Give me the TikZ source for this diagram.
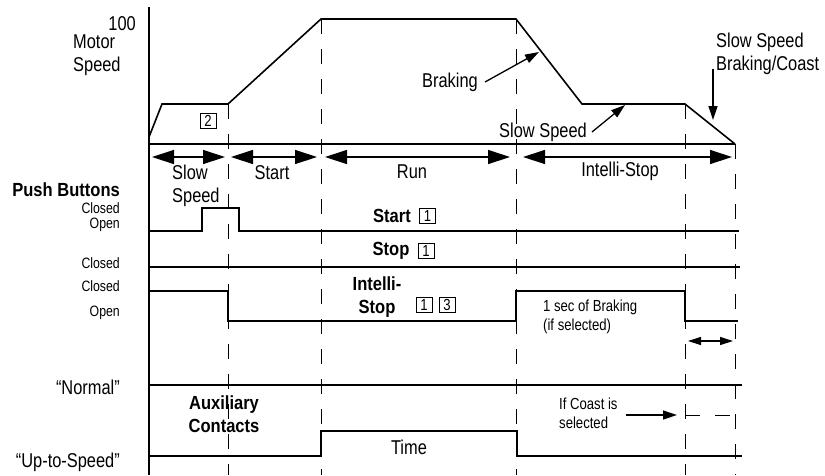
\documentclass[tikz,border=0pt]{standalone}
\usepackage{fontspec}
\setmainfont{Liberation Sans}[FakeStretch=0.82, BoldFeatures={FakeStretch=0.87}]
\usetikzlibrary{arrows.meta,positioning}

\tikzset{
  sig/.style={line width=1.6pt},
  tline/.style={line width=1pt, dash pattern=on 15pt off 15pt},
  phase/.style={line width=1.3pt,
    {Triangle[length=22pt,width=14pt]}-{Triangle[length=22pt,width=14pt]}},
  pointer/.style={line width=1.3pt, -{Triangle[length=14pt,width=9pt]}},
  lbl/.style={inner sep=0pt, font=\fontsize{20}{23}\selectfont},
  bld/.style={inner sep=0pt, font=\fontsize{19}{23}\selectfont\bfseries},
  sml/.style={inner sep=0pt, font=\fontsize{15}{17}\selectfont},
  remark/.style={inner sep=0pt, font=\fontsize{16}{19}\selectfont},
  numbox/.style={draw, line width=0.7pt, inner xsep=4.5pt, inner ysep=2pt,
    text height=11pt, text depth=0pt, font=\fontsize{16}{16}\selectfont}
}

\begin{document}
\begin{tikzpicture}[x=1pt,y=-1pt]
  \useasboundingbox (0,0) rectangle (825,475);

  % time marks
  \foreach \x/\y in {228/104, 321/19, 516/19, 685/104, 735/144}
    \draw[tline] (\x,\y) -- (\x,475);

  % axis and motor speed
  \draw[line width=1.5pt] (149,7) -- (149,475);
  \draw[sig] (149,144) -- (735,144);
  \draw[sig] (149,137) -- (162,104) -- (228,104) -- (321,19) -- (516,19)
    -- (582,104) -- (685,104) -- (735,144);

  % push buttons and contacts
  \draw[sig] (149,231) -| (202,208) -| (239,231) -- (739,231);
  \draw[sig] (149,267) -- (740,267);
  \draw[sig] (149,291) -| (228,321) -| (516,291) -| (685,321) -- (738,321);
  \draw[sig] (149,385) -- (742,385);
  \draw[sig] (149,456) -| (321,431) -| (517,456) -- (742,456);
  \draw[tline] (685,415) -- (742,415);

  % phases
  \foreach \n/\x in {0/149, 1/228, 2/321, 3/516, 4/735}
    \coordinate (p\n) at (\x,157);
  \draw[phase, shorten <=3pt, shorten >=3pt] (p0) -- (p1);
  \draw[phase, shorten <=3pt, shorten >=4pt] (p1) -- (p2);
  \draw[phase, shorten <=4pt, shorten >=6pt] (p2) -- (p3);
  \draw[phase, shorten <=7pt, shorten >=3pt] (p3) -- (p4);

  \node[lbl, anchor=west, align=left] (slowlbl) at (172,186) {Slow\\Speed};
  \node[lbl] (startlbl) at (272,173) {Start};
  \node[lbl] (runlbl) at (412,172) {Run};
  \node[lbl] (islbl) at (620,171) {Intelli-Stop};

  % left labels
  \node[lbl, anchor=east] (full) at (136,24) {100};
  \node[lbl, anchor=west, align=left] (mspd) at (73,55) {Motor\\Speed};
  \node[bld, anchor=east] (pb) at (120,190) {Push Buttons};
  \node[sml, anchor=east] (c1) at (120,208) {Closed};
  \node[sml, anchor=east] (o1) at (120,225) {Open};
  \node[sml, anchor=east] (c2) at (120,263) {Closed};
  \node[sml, anchor=east] (c3) at (120,286) {Closed};
  \node[sml, anchor=east] (o3) at (120,313) {Open};
  \node[lbl, anchor=east] (nrm) at (120,387) {“Normal”};
  \node[lbl, anchor=east] (uts) at (120,462) {“Up-to-Speed”};

  % signal names
  \node[numbox] (n2) at (208,121) {2};
  \node[bld] (startbtn) at (392,216) {Start};
  \node[numbox, right=8pt of startbtn] (n1a) {1};
  \node[bld] (stopbtn) at (391,251) {Stop};
  \node[numbox, right=8pt of stopbtn] (n1b) {1};
  \node[bld, align=center] (isbtn) at (377,297) {Intelli-\\Stop};
  \node[numbox] (n1c) at (424,305) {1};
  \node[numbox, right=6pt of n1c] (n3) {3};
  \node[bld, align=center] (aux) at (224,414) {Auxiliary\\Contacts};
  \node[lbl] (tm) at (409,447) {Time};
  \node[remark, anchor=west, align=left] (brk1s) at (543,317) {1 sec of Braking\\(if selected)};

  % call-outs
  \node[lbl] (brk) at (450,82) {Braking};
  \coordinate (brkpt) at (539,52);
  \draw[pointer] ([xshift=7pt]brk.east) -- (brkpt);

  \node[lbl] (ssp) at (543,132) {Slow Speed};
  \coordinate (sspt) at (625,105);
  \draw[pointer] ([xshift=5pt]ssp.east) -- (sspt);

  \node[lbl, anchor=west, align=left] (ssbc) at (716,54) {Slow Speed\\Braking/Coast};
  \coordinate (sbcpt) at (713,120);
  \draw[pointer] ([yshift=6pt]sbcpt |- ssbc.south) -- (sbcpt);

  \node[remark, anchor=west, align=left] (coast) at (559,413) {If Coast is\\selected};
  \coordinate (coastpt) at (677,415);
  \draw[pointer] ([xshift=8pt]coast.east |- coastpt) -- (coastpt);

  \coordinate (b3) at (685,341);
  \coordinate (b4) at (735,341);
  \draw[line width=1.2pt, shorten <=3pt, shorten >=2pt,
    {Triangle[length=13pt,width=8pt]}-{Triangle[length=13pt,width=8pt]}] (b3) -- (b4);
\end{tikzpicture}
\end{document}
